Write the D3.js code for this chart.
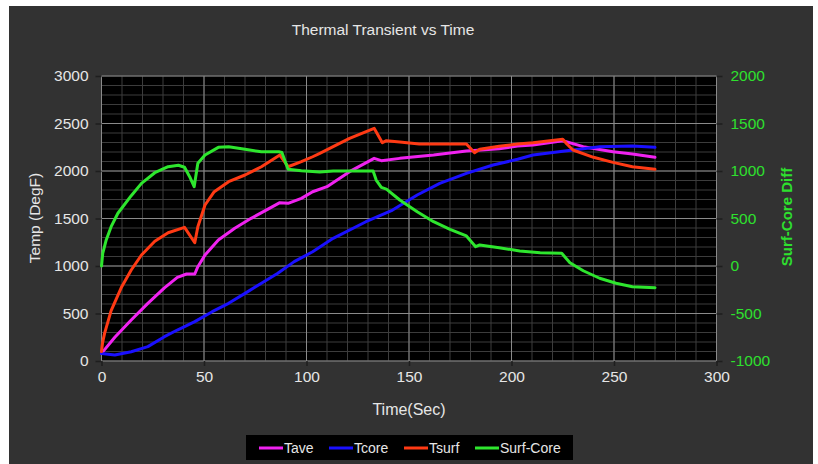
<!DOCTYPE html>
<html>
<head>
<meta charset="utf-8">
<script src="https://cdn.jsdelivr.net/npm/d3@7"></script>
<style>
  body { margin: 0; background: #fff; }
  text { font-family: "Liberation Sans", Arial, sans-serif; }
</style>
</head>
<body>
<svg id="chart" width="818" height="464"></svg>
<script>
// Tid (sek) og verdiar lesne av biletet
const taveT = [0, 6.5, 14.5, 22.6, 30.7, 37, 41.5, 45.5, 47, 50.5, 57, 65, 73, 81, 87, 91, 97.5, 103, 110, 121, 133, 136.5, 145.5, 162, 178, 194, 203, 210.5, 225, 235, 249.5, 259, 270];
const taveV = [80, 250, 432, 607, 770, 880, 916, 916, 993, 1116, 1274, 1397, 1502, 1596, 1667, 1660, 1712, 1782, 1835, 1993, 2133, 2109, 2133, 2168, 2210, 2235, 2263, 2274, 2319, 2256, 2203, 2179, 2144];

const tcoreT = [0, 6.5, 14.5, 22.6, 30.7, 37, 45.5, 54, 62, 70, 78, 86, 94, 103, 113, 129, 142, 154, 165, 178, 191, 203, 210.5, 227, 243, 259, 270];
const tcoreV = [78, 63, 98, 151, 256, 326, 414, 519, 607, 712, 818, 923, 1046, 1150, 1291, 1466, 1589, 1747, 1870, 1975, 2063, 2123, 2168, 2214, 2256, 2263, 2249];

const tsurfT = [0, 0.5, 1.5, 4.7, 9.6, 14.5, 19.5, 26, 32.5, 40.5, 45.5, 47, 50.5, 55, 62, 70, 78, 87, 91, 97.5, 103, 106.5, 113, 121, 133, 137, 139, 145.5, 155, 178, 182, 184.5, 194, 203, 210.5, 225, 227, 230, 240, 249.5, 259, 270];
const tsurfV = [100, 190, 291, 530, 770, 958, 1116, 1260, 1350, 1407, 1245, 1414, 1642, 1782, 1887, 1958, 2045, 2168, 2045, 2098, 2150, 2186, 2256, 2344, 2449, 2298, 2319, 2305, 2284, 2284, 2193, 2228, 2260, 2284, 2298, 2333, 2284, 2221, 2144, 2091, 2045, 2018];

const diffT = [0, 0.6, 2.3, 4.7, 8, 14.5, 19.5, 26, 32.5, 37.5, 40.5, 43, 45.2, 47, 50.5, 57, 62, 70, 78, 86.5, 88, 91, 97.5, 106.5, 113, 132.5, 134, 136.5, 139, 145.5, 154, 162, 170, 178, 182.5, 184.5, 194, 204, 214, 224.5, 228.5, 235, 243, 251, 259, 270];
const diffV = [0, 134, 274, 414, 555, 740, 870, 982, 1045, 1060, 1039, 940, 835, 1081, 1168, 1249, 1256, 1228, 1203, 1203, 1195, 1018, 1003, 989, 1000, 1000, 905, 828, 810, 695, 572, 466, 386, 316, 203, 221, 193, 158, 140, 134, 35, -50, -129, -182, -218, -228];

const xTicks = [0, 50, 100, 150, 200, 250, 300];
const yTicks = [0, 500, 1000, 1500, 2000, 2500, 3000];
const y2Ticks = [-1000, -500, 0, 500, 1000, 1500, 2000];

const seriesNames = ['Tave', 'Tcore', 'Tsurf', 'Surf-Core'];
const seriesColors = ['#f022f0', '#1a10ff', '#ff3a14', '#2ee62e'];

const svg = d3.select('#chart');
const m = { left: 101.5, right: 716.5, top: 76, bottom: 361 };

// Mørk bakgrunnsplate
svg.append('rect').attr('x', 9).attr('y', 6).attr('width', 804).attr('height', 458).attr('fill', '#323232');

const x = d3.scaleLinear().domain([0, 300]).range([m.left, m.right]);
const y = d3.scaleLinear().domain([0, 3000]).range([m.bottom, m.top]);
const y2 = d3.scaleLinear().domain([-1000, 2000]).range([m.bottom, m.top]);

svg.append('rect').attr('x', m.left).attr('y', m.top)
  .attr('width', m.right - m.left).attr('height', m.bottom - m.top).attr('fill', '#000');

// Rutenett: små liner først, så hovudliner
const grid = svg.append('g');
grid.selectAll('.vminor').data(d3.range(0, 301, 10)).enter().append('line')
  .attr('x1', d => x(d)).attr('x2', d => x(d)).attr('y1', m.top).attr('y2', m.bottom)
  .attr('stroke', '#3c3c3c').attr('stroke-width', 1);
grid.selectAll('.hminor').data(d3.range(0, 3001, 100)).enter().append('line')
  .attr('y1', d => y(d)).attr('y2', d => y(d)).attr('x1', m.left).attr('x2', m.right)
  .attr('stroke', '#3c3c3c').attr('stroke-width', 1);
grid.selectAll('.vmajor').data(xTicks).enter().append('line')
  .attr('x1', d => x(d)).attr('x2', d => x(d)).attr('y1', m.top).attr('y2', m.bottom)
  .attr('stroke', '#8a8a8a').attr('stroke-width', 1);
grid.selectAll('.hmajor').data(yTicks).enter().append('line')
  .attr('y1', d => y(d)).attr('y2', d => y(d)).attr('x1', m.left).attr('x2', m.right)
  .attr('stroke', '#8a8a8a').attr('stroke-width', 1.2);

// Aksar
const fmt = d => String(d);
const styleAxis = (g, color) => {
  g.select('.domain').remove();
  g.selectAll('.tick line').attr('stroke', '#1e1e1e').attr('stroke-width', 1.5);
  g.selectAll('.tick text').attr('fill', color).style('font-size', '15.5px')
    .style('font-family', '"Liberation Sans", Arial, sans-serif');
};

svg.append('g').attr('transform', `translate(0,${m.bottom})`)
  .call(d3.axisBottom(x).tickValues(xTicks).tickFormat(fmt).tickSize(5).tickPadding(5))
  .call(g => styleAxis(g, '#e6e6e6'));
svg.append('g').attr('transform', `translate(${m.left},0)`)
  .call(d3.axisLeft(y).tickValues(yTicks).tickFormat(fmt).tickSize(6).tickPadding(7))
  .call(g => styleAxis(g, '#e6e6e6'));
svg.append('g').attr('transform', `translate(${m.right},0)`)
  .call(d3.axisRight(y2).tickValues(y2Ticks).tickFormat(fmt).tickSize(6).tickPadding(8))
  .call(g => styleAxis(g, '#2ee02e'));

// Titlar
svg.append('text').attr('x', 383).attr('y', 35).attr('text-anchor', 'middle')
  .attr('fill', '#e6e6e6').style('font-size', '15.5px').text('Thermal Transient vs Time');
svg.append('text').attr('x', 409).attr('y', 415).attr('text-anchor', 'middle')
  .attr('fill', '#e6e6e6').style('font-size', '16px').text('Time(Sec)');
svg.append('text').attr('transform', 'translate(40,218) rotate(-90)').attr('text-anchor', 'middle')
  .attr('fill', '#e6e6e6').style('font-size', '15.5px').text('Temp (DegF)');
svg.append('text').attr('transform', 'translate(792,217) rotate(-90)').attr('text-anchor', 'middle')
  .attr('fill', '#2ee02e').style('font-size', '15px').style('font-weight', 'bold').text('Surf-Core Diff');

// Kurver
const lineL = d3.line().x(d => x(d[0])).y(d => y(d[1]));
const lineR = d3.line().x(d => x(d[0])).y(d => y2(d[1]));
const zip = (a, b) => a.map((t, i) => [t, b[i]]);

const curves = [
  { pts: zip(taveT, taveV), gen: lineL, color: seriesColors[0] },
  { pts: zip(tcoreT, tcoreV), gen: lineL, color: seriesColors[1] },
  { pts: zip(tsurfT, tsurfV), gen: lineL, color: seriesColors[2] },
  { pts: zip(diffT, diffV), gen: lineR, color: seriesColors[3] }
];
svg.append('g').selectAll('path').data(curves).enter().append('path')
  .attr('d', c => c.gen(c.pts)).attr('fill', 'none')
  .attr('stroke', c => c.color).attr('stroke-width', 3)
  .attr('stroke-linejoin', 'round').attr('stroke-linecap', 'round');

// Forklaring
const leg = svg.append('g');
leg.append('rect').attr('x', 246).attr('y', 435).attr('width', 327).attr('height', 25).attr('fill', '#000');
const legX = [259, 329, 404, 475];
seriesNames.forEach((name, i) => {
  leg.append('line').attr('x1', legX[i]).attr('x2', legX[i] + 24).attr('y1', 448).attr('y2', 448)
    .attr('stroke', seriesColors[i]).attr('stroke-width', 3);
  leg.append('text').attr('x', legX[i] + 25).attr('y', 453).attr('fill', '#e6e6e6')
    .style('font-size', '14px').text(name);
});
</script>
</body>
</html>
